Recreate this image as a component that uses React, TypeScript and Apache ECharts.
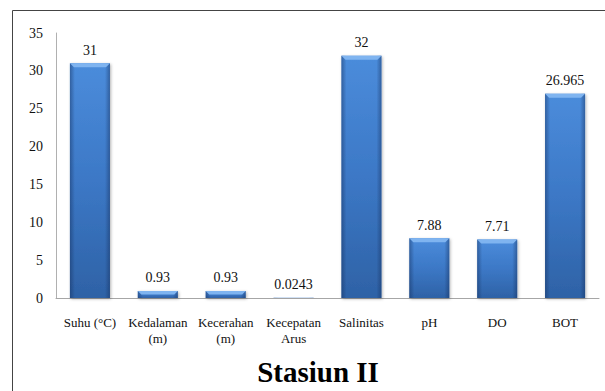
import React, { useEffect, useRef } from "react";
import * as echarts from "echarts";

// Water-quality parameters measured at station II
const categories = [
  "Suhu (°C)",
  "Kedalaman\n(m)",
  "Kecerahan\n(m)",
  "Kecepatan\nArus",
  "Salinitas",
  "pH",
  "DO",
  "BOT",
];
const values = [31, 0.93, 0.93, 0.0243, 32, 7.88, 7.71, 26.965];
const yTicks = { min: 0, max: 35, interval: 5 };
const title = "Stasiun II";

const FONT = "Times New Roman, Liberation Serif, serif";

export default function App() {
  const ref = useRef<HTMLDivElement>(null);

  useEffect(() => {
    if (!ref.current) return;
    const chart = echarts.init(ref.current, undefined, { renderer: "svg" });

    const renderBar = (params: any, api: any) => {
      const idx = api.value(0);
      const v = api.value(1);
      const top = api.coord([idx, v]);
      const base = api.coord([idx, 0]);
      const bw = api.size([1, 0])[0] * 0.59;
      const left = top[0] - bw / 2;
      const h = Math.max(base[1] - top[1], 0);
      const bevel = Math.min(4, h / 2);
      const edge = Math.min(5, bw / 4);
      const children: any[] = [
        {
          type: "rect",
          shape: { x: left, y: top[1], width: bw, height: h },
          style: {
            fill: new echarts.graphic.LinearGradient(0, 0, 0, 1, [
              { offset: 0, color: "#4b8cdb" },
              { offset: 0.5, color: "#3c78c6" },
              { offset: 1, color: "#2e62a6" },
            ]),
            shadowBlur: 3,
            shadowOffsetX: 1,
            shadowOffsetY: 1,
            shadowColor: "rgba(0,0,0,0.3)",
          },
        },
        {
          type: "rect",
          shape: { x: left, y: top[1], width: edge, height: h },
          style: {
            fill: new echarts.graphic.LinearGradient(0, 0, 1, 0, [
              { offset: 0, color: "rgba(20,45,90,0.45)" },
              { offset: 1, color: "rgba(20,45,90,0)" },
            ]),
          },
        },
        {
          type: "rect",
          shape: { x: left + bw - edge, y: top[1], width: edge, height: h },
          style: {
            fill: new echarts.graphic.LinearGradient(0, 0, 1, 0, [
              { offset: 0, color: "rgba(20,45,90,0)" },
              { offset: 1, color: "rgba(20,45,90,0.45)" },
            ]),
          },
        },
      ];
      if (bevel > 0.5) {
        children.push({
          type: "polygon",
          shape: {
            points: [
              [left, top[1]],
              [left + bw, top[1]],
              [left + bw - bevel, top[1] + bevel],
              [left + bevel, top[1] + bevel],
            ],
          },
          style: { fill: "#7fb4f0" },
        });
      }
      children.push({
        type: "text",
        style: {
          text: String(v),
          x: top[0],
          y: top[1] - 13,
          align: "center",
          verticalAlign: "middle",
          fill: "#111",
          fontFamily: FONT,
          fontSize: 14,
        },
      });
      return { type: "group", children };
    };

    chart.setOption({
      animation: false,
      textStyle: { fontFamily: FONT },
      graphic: [
        {
          type: "rect",
          shape: { x: 12.5, y: 10.5, width: 700, height: 500 },
          style: { fill: "none", stroke: "#444", lineWidth: 1 },
          silent: true,
        },
        {
          type: "text",
          x: 318,
          y: 372,
          style: {
            text: title,
            align: "center",
            verticalAlign: "middle",
            fill: "#000",
            fontFamily: FONT,
            fontWeight: "bold",
            fontSize: 29,
          },
        },
      ],
      grid: { left: 56, right: 6, top: 33, bottom: 93 },
      xAxis: {
        type: "category",
        data: categories,
        axisLine: { show: true, lineStyle: { color: "#a6a6a6", width: 1 } },
        axisTick: { show: false },
        axisLabel: {
          color: "#111",
          fontFamily: FONT,
          fontSize: 13,
          lineHeight: 16,
          margin: 16,
          interval: 0,
        },
      },
      yAxis: {
        type: "value",
        min: yTicks.min,
        max: yTicks.max,
        interval: yTicks.interval,
        splitLine: { show: false },
        axisLine: { show: true, lineStyle: { color: "#b0b0b0", width: 1 } },
        axisTick: { show: false },
        axisLabel: { color: "#111", fontFamily: FONT, fontSize: 14, margin: 13 },
      },
      series: [
        {
          type: "custom",
          renderItem: renderBar,
          data: values.map((v, i) => [i, v]),
          encode: { x: 0, y: 1 },
          clip: false,
        },
      ],
    });

    return () => chart.dispose();
  }, []);

  return (
    <div
      ref={ref}
      style={{ position: "absolute", left: 0, top: 0, width: 605, height: 391, background: "#fff" }}
    />
  );
}
